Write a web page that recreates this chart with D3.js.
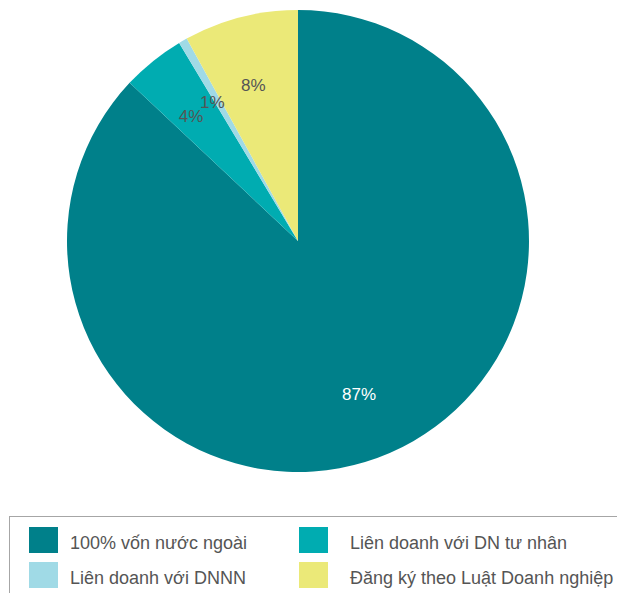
<!DOCTYPE html>
<html lang="vi">
<head>
<meta charset="UTF-8">
<title>Pie chart</title>
<script src="https://d3js.org/d3.v7.min.js"></script>
<style>
  body { margin: 0; padding: 0; background: #fff; }
  svg { display: block; font-family: "Liberation Sans", Arial, sans-serif; }
  .slice-label { font-size: 17px; }
  .legend text { font-size: 18px; fill: #555; }
</style>
</head>
<body>
<div id="chart"></div>
<script>
// Data
const categories = ["100% vốn nước ngoài", "Liên doanh với DN tư nhân", "Liên doanh với DNNN", "Đăng ký theo Luật Doanh nghiệp"];
const shares = [87.0, 4.4, 0.6, 8.0];
const labels = ["87%", "4%", "1%", "8%"];
const colors = ["#00808a", "#00acb1", "#a0dae6", "#ebe978"];
const labelColors = ["#ffffff", "#555555", "#555555", "#555555"];

const width = 617, height = 593;
const cx = 298, cy = 241, radius = 231;

const svg = d3.select("#chart").append("svg")
  .attr("width", width)
  .attr("height", height);

const pie = d3.pie().sort(null).value(d => d);
const arcs = pie(shares);

const arc = d3.arc().innerRadius(0).outerRadius(radius);
const labelArc = d3.arc().innerRadius(radius * 0.71).outerRadius(radius * 0.71);

const g = svg.append("g").attr("transform", `translate(${cx},${cy})`);

g.selectAll("path")
  .data(arcs)
  .enter().append("path")
  .attr("d", arc)
  .attr("fill", (d, i) => colors[i]);

g.selectAll("text")
  .data(arcs)
  .enter().append("text")
  .attr("class", "slice-label")
  .attr("transform", d => {
    const [x, y] = labelArc.centroid(d);
    return `translate(${x - 4},${y + 3})`;
  })
  .attr("text-anchor", "middle")
  .attr("dy", "0.35em")
  .attr("fill", (d, i) => labelColors[i])
  .text((d, i) => labels[i]);

// Legend
const legend = svg.append("g").attr("class", "legend");
legend.append("rect")
  .attr("x", 9.5).attr("y", 516.5)
  .attr("width", 640).attr("height", 100)
  .attr("fill", "none")
  .attr("stroke", "#a6a6a6")
  .attr("stroke-width", 1);

const colX = [29, 299];
const textX = [70, 350];
const rowY = [527, 562];
const items = legend.selectAll("g.item")
  .data(categories)
  .enter().append("g")
  .attr("class", "item");

items.append("rect")
  .attr("x", (d, i) => colX[i % 2])
  .attr("y", (d, i) => rowY[i < 2 ? 0 : 1])
  .attr("width", 29).attr("height", 26)
  .attr("fill", (d, i) => colors[i]);

items.append("text")
  .attr("x", (d, i) => textX[i % 2])
  .attr("y", (d, i) => rowY[i < 2 ? 0 : 1] + 16)
  .attr("dy", "0.35em")
  .text(d => d);
</script>
</body>
</html>
